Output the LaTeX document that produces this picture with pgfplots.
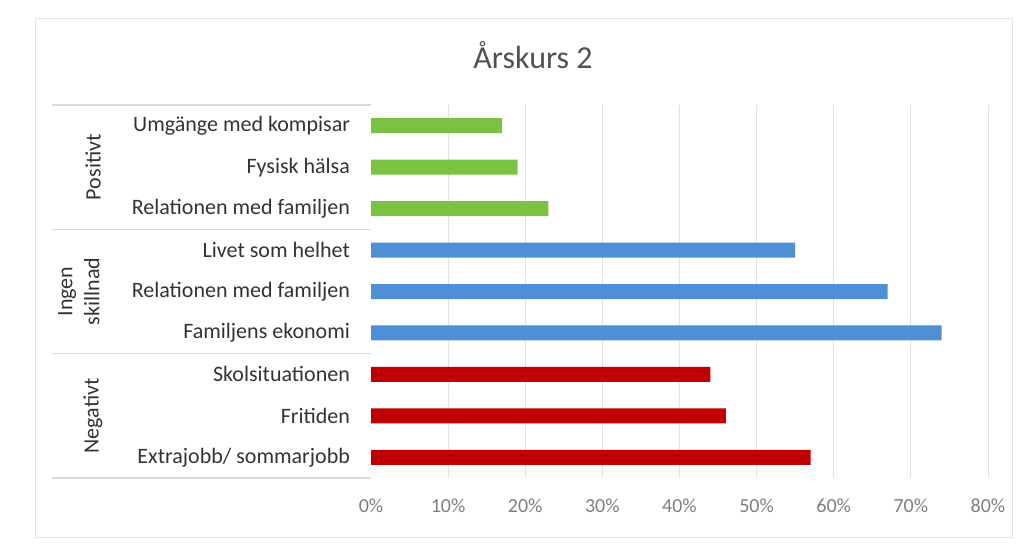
\documentclass[border=0pt]{standalone}
\usepackage{pgfplots}
\pgfplotsset{compat=1.18}
\usepackage{fontspec}
\setmainfont{Carlito}

\definecolor{posgreen}{HTML}{7CC242}
\definecolor{midblue}{HTML}{4F8FD6}
\definecolor{negred}{HTML}{C00000}
\definecolor{labtext}{HTML}{333333}
\definecolor{ticktext}{HTML}{7F7F7F}
\definecolor{gridgray}{HTML}{D9D9D9}

\begin{document}
\begin{tikzpicture}
% page frame (1 px of the reference = 0.5pt)
\path (0,0) rectangle (511pt,279pt);
\draw[gridgray!70] (17.5pt,10.5pt) rectangle (506pt,270pt);
\node[text=labtext!85,font=\fontsize{16}{18}\selectfont] at (266.5pt,251.5pt) {Årskurs 2};

\begin{axis}[
  at={(185.5pt,40pt)}, anchor=south west,
  width=308.5pt, height=186.5pt, scale only axis,
  xbar, bar width=7.5pt, bar shift=0pt,
  xmin=0, xmax=80, ymin=-0.5, ymax=8.5, y dir=reverse,
  xtick={10,20,...,80},
  extra x ticks={0}, extra tick style={grid=none},
  xticklabel={\pgfmathprintnumber{\tick}\%},
  xticklabel style={text=ticktext, font=\fontsize{10}{12}\selectfont, yshift=-7pt},
  /pgf/number format/assume math mode=true,
  ytick={0,...,8},
  yticklabels={Umgänge med kompisar, Fysisk hälsa, Relationen med familjen,
    Livet som helhet, Relationen med familjen, Familjens ekonomi,
    Skolsituationen, Fritiden, Extrajobb/ sommarjobb},
  yticklabel style={text=labtext, font=\fontsize{11}{12}\selectfont, xshift=-7pt},
  major tick length=0pt,
  hide x axis=false,
  axis x line*=bottom, axis y line*=left,
  axis line style={draw=none},
  xmajorgrids, grid style={gridgray!80, line width=0.5pt},
  clip=false,
]
  % Positivt
  \addplot[fill=posgreen, draw=none] coordinates {(17,0) (19,1) (23,2)};
  % Ingen skillnad
  \addplot[fill=midblue, draw=none] coordinates {(55,3) (67,4) (74,5)};
  % Negativt
  \addplot[fill=negred, draw=none] coordinates {(44,6) (46,7) (57,8)};

  % group separators
  \pgfplotsinvokeforeach{-0.5,2.5,5.5,8.5}{
    \draw[gridgray, line width=0.8pt] ([xshift=-159.5pt]axis cs:0,#1) -- (axis cs:0,#1);
  }
  % group labels
  \node[rotate=90, text=labtext, font=\fontsize{11}{12}\selectfont]
    at ([xshift=-139pt]axis cs:0,1) {Positivt};
  \node[rotate=90, align=center, text=labtext, font=\fontsize{11}{13.5}\selectfont]
    at ([xshift=-146pt]axis cs:0,4) {Ingen\\skillnad};
  \node[rotate=90, text=labtext, font=\fontsize{11}{12}\selectfont]
    at ([xshift=-139pt]axis cs:0,7) {Negativt};
\end{axis}
\end{tikzpicture}
\end{document}
